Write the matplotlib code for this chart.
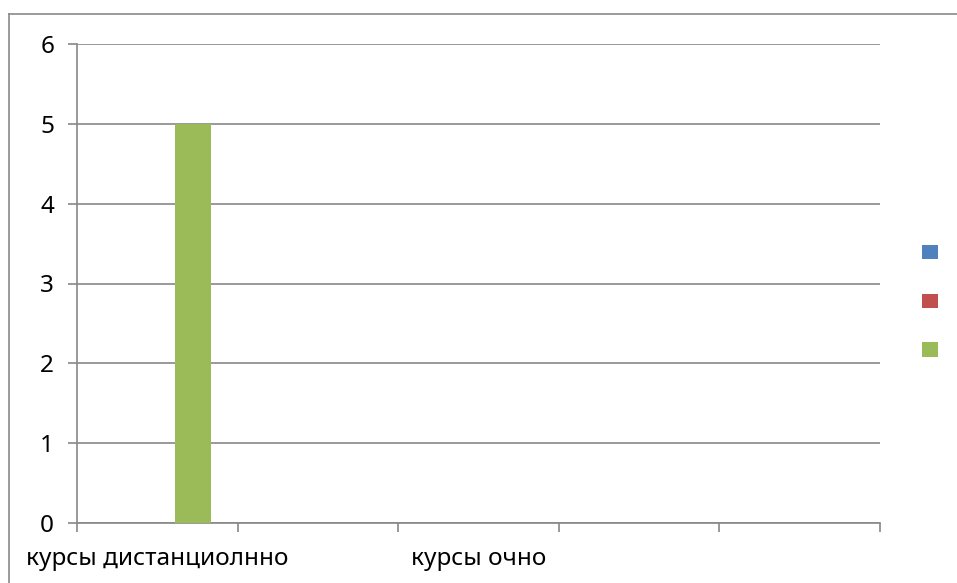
import numpy as np
import matplotlib.pyplot as plt
from matplotlib.patches import Patch
from matplotlib.lines import Line2D

categories = ["курсы дистанциолнно", "", "курсы очно", "", ""]
series_1 = [0, 0, 0, 0, 0]
series_2 = [0, 0, 0, 0, 0]
series_3 = [5, 0, 0, 0, 0]
series_values = [series_1, series_2, series_3]
series_colors = ["#4F81BD", "#C0504D", "#9BBB59"]
y_ticks = [0, 1, 2, 3, 4, 5, 6]

plt.rcParams['font.family'] = ['Noto Sans', 'DejaVu Sans']
grid_color = "#888888"

fig = plt.figure(figsize=(9.57, 5.83), dpi=100)
W, H = 957, 583
ax = fig.add_axes([77 / W, 1 - 523 / H, 803 / W, 479 / H])

x = np.arange(len(categories))
width = 0.224
for i, (vals, col) in enumerate(zip(series_values, series_colors)):
    ax.bar(x + (i - 1) * width, vals, width, color=col, zorder=3)

ax.set_xlim(-0.5, len(categories) - 0.5)
ax.set_ylim(0, 6)
ax.set_yticks(y_ticks)
ax.set_yticklabels([str(v) for v in y_ticks], fontsize=17.5)
ax.set_xticks(x)
ax.set_xticklabels(categories, fontsize=17.5)
ax.set_xticks(np.arange(len(categories) + 1) - 0.5, minor=True)

ax.tick_params(axis='x', which='major', length=0, pad=17)
ax.tick_params(axis='x', which='minor', length=6.5, width=1.2, color=grid_color)
ax.tick_params(axis='y', length=6.5, width=1.2, color=grid_color, pad=10)

ax.grid(axis='y', color=grid_color, linewidth=1.2, zorder=0)
for side in ['top', 'right']:
    ax.spines[side].set_visible(False)
for side in ['left', 'bottom']:
    ax.spines[side].set_color(grid_color)
    ax.spines[side].set_linewidth(1.2)

# outer chart border (only top and left visible in the crop)
fig.add_artist(Line2D([9 / W, 1], [1 - 14 / H, 1 - 14 / H], color="#8a8a8a", linewidth=1.2))
fig.add_artist(Line2D([9 / W, 9 / W], [0, 1 - 14 / H], color="#8a8a8a", linewidth=1.2))

handles = [Patch(facecolor=c, edgecolor='none') for c in series_colors]
fig.legend(handles, ["", "", ""], loc='center', bbox_to_anchor=(930 / W, 1 - 302 / H),
           frameon=False, fontsize=11.5, handlelength=1, handleheight=1,
           handletextpad=0, labelspacing=2.0, borderpad=0)

fig.savefig("out.png", dpi=100)
